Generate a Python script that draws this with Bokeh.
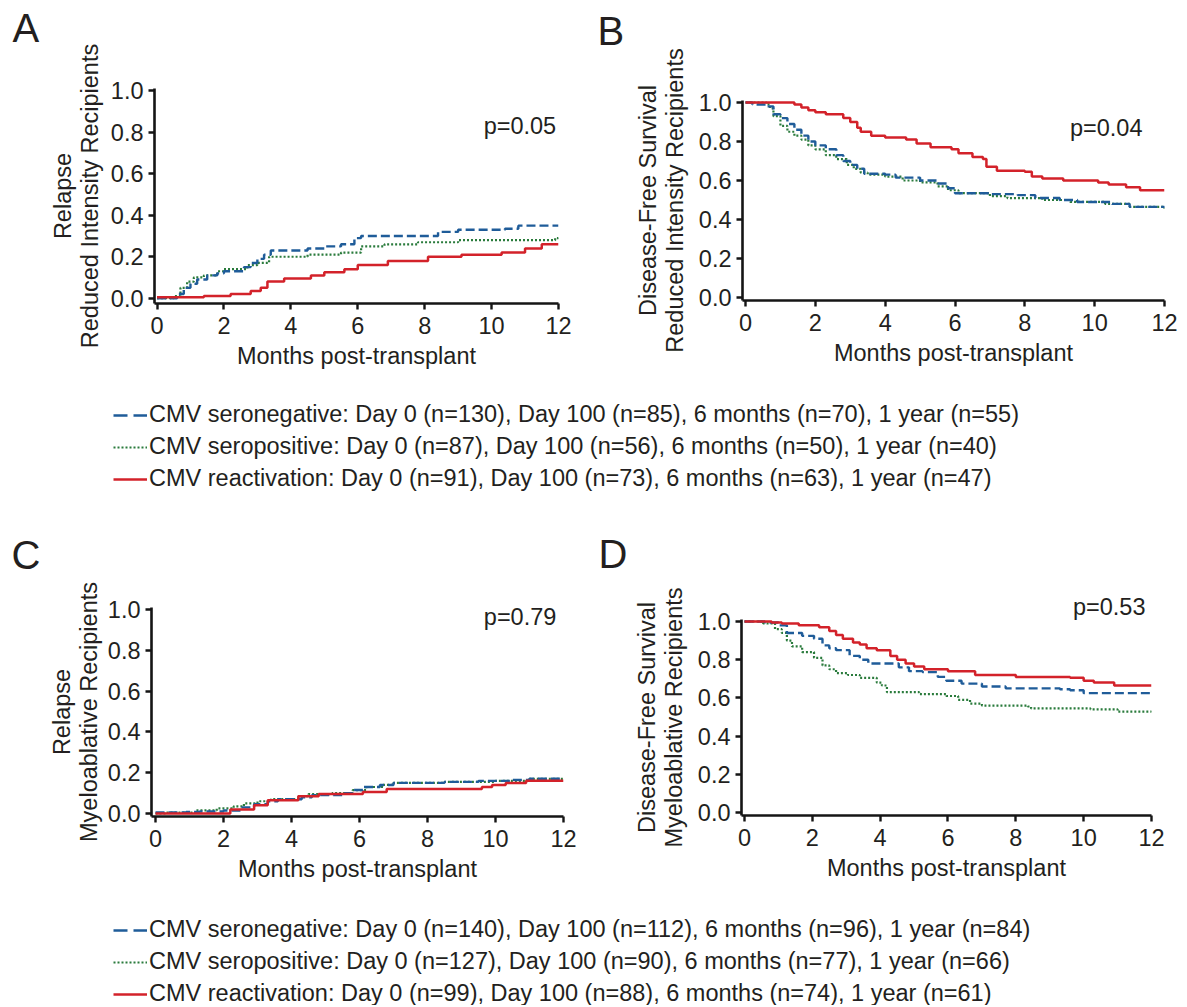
from bokeh.plotting import figure
from bokeh.models import (Range1d, FixedTicker, PrintfTickFormatter, Label, Legend,
                          LegendItem, Title)
from bokeh.layouts import column, row
from bokeh.embed import file_html
from bokeh.resources import INLINE

# ---------------- data ----------------
x_ticks = [0, 2, 4, 6, 8, 10, 12]
y_ticks = [0.0, 0.2, 0.4, 0.6, 0.8, 1.0]

# Panel A: relapse, reduced intensity
A_neg_t = [0, 0.6, 0.8, 1.0, 1.2, 1.5, 1.8, 2.0, 2.3, 2.6, 2.8, 3.0, 3.2, 3.4, 4.5, 5.0, 5.5, 5.9, 6.1, 8.4, 9.0, 10.4, 10.8, 12]
A_neg_v = [0, 0.02, 0.05, 0.07, 0.09, 0.11, 0.12, 0.13, 0.13, 0.15, 0.17, 0.19, 0.21, 0.23, 0.24, 0.25, 0.26, 0.29, 0.30, 0.32, 0.33, 0.335, 0.35, 0.35]
A_pos_t = [0, 0.5, 0.7, 0.9, 1.1, 1.4, 1.8, 2.0, 2.4, 2.7, 3.0, 3.2, 3.35, 4.5, 5.0, 5.5, 6.1, 6.8, 7.8, 9.0, 11.9, 12]
A_pos_v = [0, 0.01, 0.05, 0.08, 0.10, 0.11, 0.13, 0.14, 0.14, 0.16, 0.17, 0.17, 0.20, 0.21, 0.21, 0.22, 0.25, 0.26, 0.27, 0.28, 0.29, 0.30]
A_rea_t = [0, 0.7, 1.4, 2.2, 2.8, 3.1, 3.3, 3.8, 4.6, 5.0, 5.6, 6.0, 6.9, 8.1, 9.1, 10.3, 11.0, 11.5, 12]
A_rea_v = [0.005, 0.005, 0.01, 0.02, 0.035, 0.05, 0.08, 0.095, 0.11, 0.125, 0.14, 0.16, 0.18, 0.20, 0.21, 0.22, 0.24, 0.26, 0.26]

# Panel B: disease-free survival, reduced intensity
B_neg_t = [0, 0.2, 0.6, 0.8, 1.0, 1.2, 1.4, 1.6, 1.8, 2.0, 2.3, 2.6, 2.8, 3.0, 3.2, 3.4, 4.0, 4.3, 5.0, 5.5, 5.8, 6.0, 7.0, 7.8, 8.3, 9.0, 9.5, 10.5, 11.0, 12]
B_neg_v = [1.0, 0.99, 0.98, 0.94, 0.92, 0.89, 0.86, 0.83, 0.80, 0.78, 0.76, 0.73, 0.70, 0.68, 0.66, 0.635, 0.63, 0.615, 0.60, 0.585, 0.56, 0.535, 0.53, 0.525, 0.51, 0.50, 0.49, 0.48, 0.465, 0.46]
B_pos_t = [0, 0.6, 0.7, 0.8, 1.0, 1.2, 1.4, 1.6, 1.8, 2.0, 2.3, 2.6, 2.9, 3.1, 3.3, 3.5, 4.0, 4.5, 5.0, 5.5, 5.8, 6.1, 7.0, 7.5, 8.5, 9.3, 10.3, 11.0, 12]
B_pos_v = [1.0, 0.99, 0.97, 0.93, 0.88, 0.85, 0.83, 0.81, 0.78, 0.76, 0.73, 0.71, 0.68, 0.66, 0.64, 0.63, 0.62, 0.60, 0.59, 0.57, 0.55, 0.535, 0.52, 0.51, 0.50, 0.49, 0.48, 0.465, 0.455]
B_rea_t = [0, 1.4, 1.6, 1.8, 2.0, 2.3, 2.8, 3.0, 3.2, 3.3, 3.6, 4.0, 4.6, 4.9, 5.3, 5.9, 6.1, 6.5, 6.8, 6.9, 7.2, 8.0, 8.2, 8.5, 9.1, 10.1, 10.4, 10.9, 11.3, 12]
B_rea_v = [1.0, 0.99, 0.975, 0.96, 0.95, 0.94, 0.92, 0.90, 0.87, 0.85, 0.83, 0.82, 0.81, 0.79, 0.77, 0.76, 0.74, 0.72, 0.71, 0.67, 0.65, 0.645, 0.62, 0.61, 0.60, 0.59, 0.58, 0.565, 0.55, 0.55]

# Panel C: relapse, myeloablative
C_neg_t = [0, 0.9, 1.3, 2.0, 2.5, 2.9, 3.3, 3.6, 4.3, 4.6, 5.5, 5.8, 6.1, 6.6, 7.0, 8.5, 9.5, 10.5, 11.0, 12]
C_neg_v = [0.005, 0.007, 0.01, 0.015, 0.03, 0.045, 0.06, 0.07, 0.08, 0.09, 0.10, 0.115, 0.13, 0.14, 0.15, 0.155, 0.16, 0.165, 0.17, 0.17]
C_pos_t = [0, 0.3, 1.2, 1.8, 2.3, 2.6, 3.0, 3.4, 4.2, 4.5, 5.2, 5.8, 6.2, 6.7, 7.0, 8.5, 10.0, 11.0, 12]
C_pos_v = [0, 0.005, 0.015, 0.025, 0.035, 0.05, 0.06, 0.07, 0.085, 0.095, 0.10, 0.115, 0.13, 0.14, 0.15, 0.155, 0.16, 0.17, 0.175]
C_rea_t = [0, 2.2, 2.9, 3.3, 4.2, 4.8, 6.1, 6.8, 9.6, 9.9, 10.3, 10.9, 12]
C_rea_v = [0, 0.02, 0.04, 0.065, 0.085, 0.095, 0.105, 0.12, 0.13, 0.14, 0.15, 0.16, 0.16]

# Panel D: disease-free survival, myeloablative
D_neg_t = [0, 0.6, 1.0, 1.25, 1.7, 2.05, 2.3, 2.5, 2.7, 3.1, 3.4, 3.65, 4.35, 4.55, 4.85, 5.25, 5.7, 5.95, 6.4, 7.0, 7.7, 9.3, 9.6, 10.0, 12]
D_neg_v = [1.0, 0.995, 0.98, 0.94, 0.925, 0.91, 0.875, 0.86, 0.85, 0.82, 0.80, 0.78, 0.78, 0.76, 0.74, 0.735, 0.71, 0.69, 0.675, 0.66, 0.65, 0.645, 0.64, 0.625, 0.625]
D_pos_t = [0, 0.55, 0.9, 1.1, 1.25, 1.4, 1.7, 2.05, 2.3, 2.5, 2.7, 3.05, 3.4, 3.9, 4.05, 4.2, 5.15, 5.95, 6.3, 6.65, 7.0, 8.35, 8.45, 10.2, 11.0, 12]
D_pos_v = [1.0, 0.99, 0.96, 0.94, 0.90, 0.87, 0.84, 0.81, 0.77, 0.75, 0.73, 0.72, 0.705, 0.68, 0.665, 0.63, 0.62, 0.61, 0.59, 0.57, 0.56, 0.555, 0.545, 0.54, 0.528, 0.525]
D_rea_t = [0, 0.8, 1.1, 1.6, 2.2, 2.5, 2.7, 2.9, 3.2, 3.4, 3.6, 3.9, 4.3, 4.5, 4.75, 5.0, 5.3, 6.0, 6.8, 8.0, 9.6, 10.0, 10.3, 10.9, 12]
D_rea_v = [1.0, 0.995, 0.99, 0.98, 0.97, 0.95, 0.93, 0.91, 0.89, 0.88, 0.86, 0.85, 0.82, 0.80, 0.78, 0.765, 0.75, 0.74, 0.72, 0.71, 0.705, 0.69, 0.68, 0.665, 0.665]

p_values = ["p=0.05", "p=0.04", "p=0.79", "p=0.53"]
panel_letters = ["A", "B", "C", "D"]
y_labels = ["Relapse\nReduced Intensity Recipients",
            "Disease-Free Survival\nReduced Intensity Recipients",
            "Relapse\nMyeloablative Recipients",
            "Disease-Free Survival\nMyeloablative Recipients"]
x_label = "Months post-transplant"

legend1_labels = [
    "CMV seronegative: Day 0 (n=130), Day 100 (n=85), 6 months (n=70), 1 year (n=55)",
    "CMV seropositive: Day 0 (n=87), Day 100 (n=56), 6 months (n=50), 1 year (n=40)",
    "CMV reactivation: Day 0 (n=91), Day 100 (n=73), 6 months (n=63), 1 year (n=47)",
]
legend2_labels = [
    "CMV seronegative: Day 0 (n=140), Day 100 (n=112), 6 months (n=96), 1 year (n=84)",
    "CMV seropositive: Day 0 (n=127), Day 100 (n=90), 6 months (n=77), 1 year (n=66)",
    "CMV reactivation: Day 0 (n=99), Day 100 (n=88), 6 months (n=74), 1 year (n=61)",
]

# ---------------- styling ----------------
FONT = "Liberation Sans"
TXT = "#231f20"
AXC = "#151515"
STYLES = [
    dict(line_color="#1f5c99", line_width=2.4, line_dash="9 4"),   # seronegative
    dict(line_color="#2a7b3c", line_width=2.2, line_dash="2 2"),   # seropositive
    dict(line_color="#d3222a", line_width=2.5, line_dash="solid"), # reactivation
]
LEGEND_DASH = ["14 6", "2 2", "solid"]
DRAW_ORDER = [1, 0, 2]


def spacer(size):
    return Title(text=" ", text_font_size="1px", standoff=max(size - 3, 0))


def panel(spec, series, idx):
    p = figure(width=spec["w"], height=spec["h"], title=None,
               x_range=Range1d(spec["x0"], 12), y_range=Range1d(spec["y0"], spec["y1"]),
               output_backend="svg", toolbar_location=None, tools="",
               min_border_left=spec["ml"], min_border_right=spec["mr"],
               min_border_top=spec["mt"], min_border_bottom=spec["mb"])
    p.frame_align = False
    p.outline_line_color = None
    p.grid.visible = False
    p.background_fill_color = "white"
    p.border_fill_color = "white"
    for ax in (p.xaxis[0], p.yaxis[0]):
        ax.axis_line_width = 2.6
        ax.axis_line_color = AXC
        ax.major_tick_line_width = 2.4
        ax.major_tick_line_color = AXC
        ax.major_tick_out = 6
        ax.major_tick_in = 0
        ax.minor_tick_line_color = None
        ax.major_label_text_font = FONT
        ax.major_label_text_font_size = "23.5px"
        ax.major_label_text_color = TXT
        ax.axis_label_text_font = FONT
        ax.axis_label_text_font_size = "23.5px"
        ax.axis_label_text_font_style = "normal"
        ax.axis_label_text_color = TXT
        ax.axis_label_text_line_height = 1.03
    p.xaxis.ticker = FixedTicker(ticks=x_ticks)
    p.yaxis.ticker = FixedTicker(ticks=y_ticks)
    p.yaxis.formatter = PrintfTickFormatter(format="%.1f")
    p.xaxis.major_label_standoff = 7
    p.yaxis.major_label_standoff = 5
    p.xaxis.axis_label_standoff = 6
    p.yaxis.axis_label_standoff = spec["ys"]
    p.xaxis.axis_label = x_label
    p.yaxis.axis_label = y_labels[idx]

    for k in DRAW_ORDER:
        t, v = series[k]
        p.step(x=t, y=v, mode="after", **STYLES[k])

    letter = Title(text=panel_letters[idx], align="left", offset=spec["lx"],
                   vertical_align="top", standoff=spec["ls"], text_font=FONT,
                   text_font_size="40px", text_font_style="normal", text_color=TXT)
    if spec.get("p_title"):
        ptitle = Title(text=p_values[idx], align="right", offset=spec["px"],
                       vertical_align="bottom", standoff=0, text_font=FONT,
                       text_font_size="23.5px", text_font_style="normal", text_color=TXT)
        p.add_layout(ptitle, "above")
        p.add_layout(spacer(spec["sp"]), "above")
    else:
        p.add_layout(spacer(spec["sp"]), "above")
        p.add_layout(Label(x=spec["px"], y=spec["py"], text=p_values[idx], text_font=FONT,
                           text_font_size="23.5px", text_color=TXT,
                           text_baseline="alphabetic", text_align="right"))
    p.add_layout(letter, "above")
    return p


specs = [
    dict(w=590, h=385, ml=154, mr=32, mt=88, mb=82, x0=-0.075, y0=-0.0256, y1=1.012,
         lx=-142, ls=8, sp=33, ys=5, px=11.93, py=0.829),
    dict(w=597, h=385, ml=152, mr=23, mt=100, mb=85, x0=-0.086, y0=-0.0154, y1=1.0103,
         lx=-145, ls=15, sp=38, ys=8, px=11.37, py=0.867),
    dict(w=590, h=373, ml=151, mr=27, mt=87, mb=77, x0=-0.118, y0=-0.0147, y1=1.0098,
         lx=-140, ls=23, sp=17, ys=3, px=11.79, py=0.961),
    dict(w=597, h=373, ml=151, mr=36, mt=99, mb=78, x0=-0.088, y0=-0.0157, y1=1.0105,
         lx=-143, ls=21, sp=3, ys=8, px=6, p_title=True),
]

data = [
    [(A_neg_t, A_neg_v), (A_pos_t, A_pos_v), (A_rea_t, A_rea_v)],
    [(B_neg_t, B_neg_v), (B_pos_t, B_pos_v), (B_rea_t, B_rea_v)],
    [(C_neg_t, C_neg_v), (C_pos_t, C_pos_v), (C_rea_t, C_rea_v)],
    [(D_neg_t, D_neg_v), (D_pos_t, D_pos_v), (D_rea_t, D_rea_v)],
]

panels = [panel(specs[i], data[i], i) for i in range(4)]


def legend_fig(height, labels, loc):
    f = figure(width=1187, height=height, title=None,
               x_range=Range1d(0, 1), y_range=Range1d(0, 1),
               output_backend="svg", toolbar_location=None, tools="",
               min_border=0, min_border_left=0, min_border_right=0,
               min_border_top=0, min_border_bottom=0)
    f.frame_align = False
    f.axis.visible = False
    f.grid.visible = False
    f.outline_line_color = None
    items = []
    for k in range(3):
        # legend proxies: lines outside the visible range, carrying the series style
        style = dict(STYLES[k])
        style["line_dash"] = LEGEND_DASH[k]
        r = f.line(x=[-10, -9], y=[-10, -10], **style)
        items.append(LegendItem(label=labels[k], renderers=[r]))
    lg = Legend(items=items, location=loc, glyph_width=34, glyph_height=26,
                label_height=26, label_standoff=2, spacing=5, padding=0, margin=0,
                border_line_alpha=0, background_fill_alpha=0,
                label_text_font=FONT, label_text_font_size="23.5px", label_text_color=TXT)
    f.add_layout(lg, "center")
    return f


leg1 = legend_fig(135, legend1_labels, (113, 28))
leg2 = legend_fig(112, legend2_labels, (113, -2))

layout = column(row(panels[0], panels[1]), leg1, row(panels[2], panels[3]), leg2)

open("out.html", "w").write(file_html(layout, INLINE))
